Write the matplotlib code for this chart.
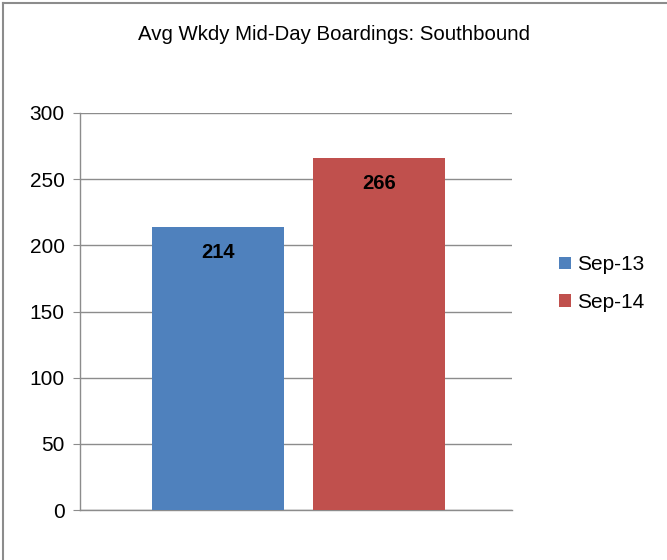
import matplotlib
matplotlib.use("Agg")
import matplotlib.pyplot as plt
from matplotlib.lines import Line2D

title = "Avg Wkdy Mid-Day Boardings: Southbound"
series = ["Sep-13", "Sep-14"]
values = [214, 266]
colors = ["#4F81BD", "#C0504D"]
yticks = [0, 50, 100, 150, 200, 250, 300]

plt.rcParams['font.family'] = ['Liberation Sans', 'DejaVu Sans']

fig = plt.figure(figsize=(6.67, 5.6), dpi=100)
ax = fig.add_axes([80/667, 50/560, 432/667, 397/560])

offsets = [-0.36, 0.385]
width = 0.61
for off, v, c, s in zip(offsets, values, colors, series):
    ax.bar(off, v, width=width, color=c, label=s, zorder=3)
    ax.text(off, v - 12, str(v), ha='center', va='top', fontsize=14.5,
            fontweight='bold', color='black', zorder=4)

ax.set_xlim(-1, 1)
ax.set_ylim(0, 300)
ax.set_yticks(yticks)
ax.set_xticks([])
ax.yaxis.grid(True, color='#8C8C8C', linewidth=1.0, zorder=0)
for sp in ['top', 'right']:
    ax.spines[sp].set_visible(False)
ax.spines['left'].set_color('#8C8C8C')
ax.spines['bottom'].set_color('#8C8C8C')
ax.spines['left'].set_linewidth(1.0)
ax.spines['bottom'].set_linewidth(1.0)
ax.tick_params(axis='y', length=5, color='#8C8C8C', labelsize=15, pad=6)
ax.set_axisbelow(True)

fig.text(333.5/667, 1 - 35/560, title, ha='center', va='center', fontsize=14.7)

ax.legend(loc='center left', bbox_to_anchor=(471/432, 0.57), frameon=False,
          fontsize=15, handlelength=0.55, handleheight=0.55, handletextpad=0.3,
          labelspacing=0.9, borderaxespad=0)

fig.add_artist(Line2D([3/667, 3/667], [0, 1 - 3/560], transform=fig.transFigure,
                      color='#8C8C8C', linewidth=1.5))
fig.add_artist(Line2D([3/667, 1], [1 - 3/560, 1 - 3/560], transform=fig.transFigure,
                      color='#8C8C8C', linewidth=1.5))

fig.savefig("out.png", dpi=100)
